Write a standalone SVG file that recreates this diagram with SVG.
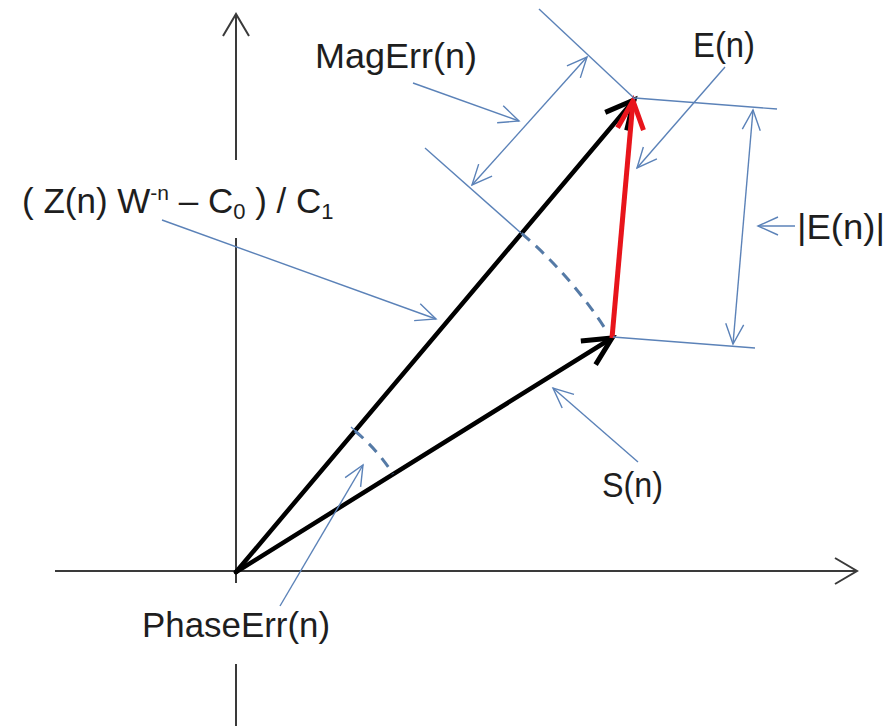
<svg xmlns="http://www.w3.org/2000/svg" width="889" height="726" viewBox="0 0 889 726">
<style>
.lbl{font-family:"Liberation Sans",Arial,sans-serif;font-size:35px;fill:#1e1e1e}
.axis{stroke:#3a3a3a;stroke-width:2;fill:none}
.vec{stroke:#000;stroke-width:4.5;fill:none;stroke-linecap:round}
.err{stroke:#e8141b;stroke-width:5;fill:none}
.thin{stroke:#5b82b8;stroke-width:1.4;fill:none}
.dash{stroke:#557aa6;stroke-width:3;fill:none;stroke-dasharray:11 8}
</style>
<defs>
<marker id="ax" markerUnits="userSpaceOnUse" orient="auto" markerWidth="40" markerHeight="40" refX="0" refY="0" viewBox="-30 -20 40 40" overflow="visible">
<path d="M-22,-13 L0,0 L-22,13" fill="none" stroke="#3a3a3a" stroke-width="2"/>
</marker>
<marker id="blk" markerUnits="userSpaceOnUse" orient="auto" markerWidth="50" markerHeight="50" refX="0" refY="0" viewBox="-40 -25 50 50" overflow="visible">
<path d="M-28,-14 L0,0 L-28,14" fill="none" stroke="#000" stroke-width="5"/>
</marker>
<marker id="red" markerUnits="userSpaceOnUse" orient="auto" markerWidth="50" markerHeight="50" refX="0" refY="0" viewBox="-40 -25 50 50" overflow="visible">
<path d="M-28,-13 L0,0 L-28,13" fill="none" stroke="#e8141b" stroke-width="5"/>
</marker>
<marker id="bl" markerUnits="userSpaceOnUse" orient="auto-start-reverse" markerWidth="40" markerHeight="40" refX="0" refY="0" viewBox="-30 -20 40 40" overflow="visible">
<path d="M-20,-9 L0,0 L-20,9" fill="none" stroke="#5b82b8" stroke-width="1.4"/>
</marker>
</defs>
<rect width="889" height="726" fill="#fff"/>

<g id="axes">
<path class="axis" d="M236,583 L236,14" marker-end="url(#ax)"/>
<path class="axis" d="M236,664 L236,726"/>
<path class="axis" d="M55,571 L857,571" marker-end="url(#ax)"/>
</g>

<g id="label-zc">
<rect x="14" y="160" width="335" height="78" fill="#fff"/>
<text class="lbl" x="22" y="213">( Z(n) W<tspan font-size="21" dy="-13">-n</tspan><tspan dy="13"> – C</tspan><tspan font-size="22" dy="6">0</tspan><tspan dy="-6"> ) / C</tspan><tspan font-size="22" dy="6">1</tspan></text>
</g>

<g id="connectors">
<path class="vec" d="M236,572 L634,100" marker-end="url(#blk)"/>
<path class="vec" d="M236,572 L612,338" marker-end="url(#blk)"/>
<path class="err" d="M612,338 L633,101" marker-end="url(#red)"/>
<path class="dash" d="M521.6,233.3 A443,443 0 0 1 606,330"/>
<path class="dash" d="M355,431 A185,185 0 0 1 393,474" stroke-dasharray="9 9"/>
<path class="thin" d="M351,427 L361,436" stroke="#557aa6" stroke-width="2.5"/>
<path class="thin" d="M425,148 L521,233"/>
<path class="thin" d="M539,9 L635,99"/>
<path class="thin" d="M635,98 L777,109"/>
<path class="thin" d="M613,337 L755,348"/>
<path class="thin" d="M472,185 L587,57" marker-start="url(#bl)" marker-end="url(#bl)"/>
<path class="thin" d="M753,110 L733,344" marker-start="url(#bl)" marker-end="url(#bl)"/>
<path class="thin" d="M162,220 L436,319" marker-end="url(#bl)"/>
<path class="thin" d="M413,83 L519,121" marker-end="url(#bl)"/>
<path class="thin" d="M725,67 L637,168" marker-end="url(#bl)"/>
<path class="thin" d="M638,462 L553,388" marker-end="url(#bl)"/>
<path class="thin" d="M280,606 L363,465" marker-end="url(#bl)"/>
<path class="thin" d="M795,226 L758,226" marker-end="url(#bl)"/>
</g>

<g id="label-magerr">
<text class="lbl" x="315" y="68" textLength="162" lengthAdjust="spacingAndGlyphs">MagErr(n)</text>
</g>
<g id="label-en">
<text class="lbl" x="693" y="57" textLength="62" lengthAdjust="spacingAndGlyphs">E(n)</text>
</g>
<g id="label-absen">
<text class="lbl" x="797" y="239" textLength="88" lengthAdjust="spacingAndGlyphs">|E(n)|</text>
</g>
<g id="label-sn">
<text class="lbl" x="602" y="497" textLength="61" lengthAdjust="spacingAndGlyphs">S(n)</text>
</g>
<g id="label-phaseerr">
<text class="lbl" x="142" y="637" textLength="188" lengthAdjust="spacingAndGlyphs">PhaseErr(n)</text>
</g>
</svg>
